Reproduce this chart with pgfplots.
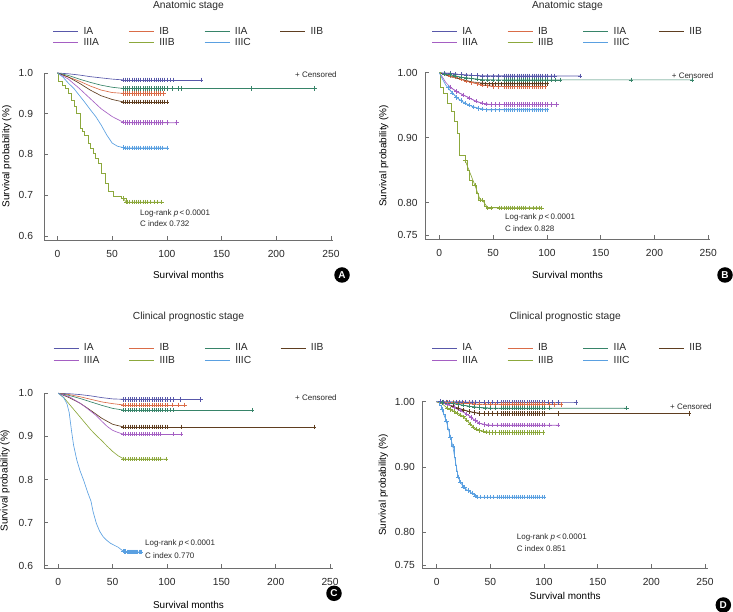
\documentclass[border=0pt]{standalone}
\usepackage{fontspec}
\setmainfont{Liberation Sans}
\usepackage{pgfplots}
\pgfplotsset{compat=1.18}

\definecolor{cIA}{RGB}{88,88,170}
\definecolor{cIB}{RGB}{218,108,72}
\definecolor{cIIA}{RGB}{55,132,105}
\definecolor{cIIB}{RGB}{95,62,32}
\definecolor{cIIIA}{RGB}{165,95,195}
\definecolor{cIIIB}{RGB}{140,168,60}
\definecolor{cIIIC}{RGB}{90,160,225}
\definecolor{axc}{RGB}{110,110,110}
\definecolor{txc}{RGB}{40,40,40}

\pgfplotsset{
  km/.style={
    scale only axis,
    axis x line*=bottom, axis y line*=left,
    axis line style={axc, line width=0.7bp},
    every tick/.style={axc, line width=0.7bp},
    tick align=inside,
    major tick length=4bp,
    xtick={0,50,100,150,200,250},
    tick label style={font=\fontsize{10.3}{12}\selectfont, text=txc},
    xticklabel style={yshift=-7bp},
    /pgf/number format/assume math mode=true,
    clip=false,
    xlabel={Survival months},
    ylabel={Survival probability (\%)},
    label style={font=\fontsize{10.3}{12}\selectfont, text=txc},
    every axis x label/.style={at={(axis description cs:0.5,0)}, anchor=center},
    every axis title/.style={font=\fontsize{10.3}{12}\selectfont, text=txc, at={(axis description cs:0.5,1)}, anchor=center},
    legend columns=4,
    legend cell align=left,
    legend image code/.code={\draw[##1] (0bp,0bp) -- (25bp,0bp);},
    legend style={draw=none, fill=none, anchor=north west, inner sep=0pt, outer sep=0pt,
      font=\fontsize{10.3}{12}\selectfont, text=txc,
      nodes={inner sep=0pt, text height=7.5bp, text depth=2bp},
      column sep=0pt, row sep=1.5bp},
  },
  cur/.style={line width=0.65bp, mark=none},
  cen/.style={line width=0.65bp, mark=+, mark size=2.2bp, mark options={solid, line width=0.5bp}, forget plot},
}
\newcommand{\lgent}[1]{\addlegendentry{\hspace*{5bp}\makebox[45bp][l]{#1}}}
\newcommand{\smalltxt}{\fontsize{8}{9.5}\selectfont}

\begin{document}
\begin{tikzpicture}
\path[use as bounding box] (0,0) rectangle (733bp,612bp);

%% ================= Panel A =================
\begin{axis}[km, at={(44bp,372bp)}, anchor=south west, width=289bp, height=167bp,
  xmin=-12.3, xmax=251.8, ymin=0.590, ymax=1.0,
  ytick={0.6,0.7,0.8,0.9,1.0}, yticklabels={0.6,0.7,0.8,0.9,1.0},
  yticklabel style={xshift=-7.5bp},
  every axis y label/.style={at={(axis description cs:-0.129,0.5)}, rotate=90, anchor=center},
  xlabel style={yshift=-35bp},
  title={Anatomic stage}, title style={yshift=67bp},
  legend style={at={(axis description cs:0.0311,1.2754)}}]
\addplot[cur, cIA] coordinates {(0,1)(5,0.999)(10,0.998)(20,0.995)(30,0.991)(40,0.988)(50,0.985)(60,0.983)}; \lgent{IA}
\addplot[cen, cIA] coordinates {(60,0.983)(62,0.983)(64,0.983)(66,0.983)(68,0.983)(70,0.983)(72,0.983)(74,0.983)(76,0.983)(78,0.983)(80,0.983)(82,0.983)(84,0.983)(86,0.983)(88,0.983)(90,0.983)(92,0.983)(94,0.983)(96,0.983)(98,0.983)(100,0.983)(103,0.983)(106,0.983)(131,0.983)};
\addplot[cur, cIB] coordinates {(0,1)(10,0.99)(20,0.98)(30,0.968)(40,0.958)(50,0.952)(60,0.950)}; \lgent{IB}
\addplot[cen, cIB] coordinates {(60,0.950)(62,0.950)(64,0.950)(66,0.950)(68,0.950)(70,0.950)(72,0.950)(74,0.950)(76,0.950)(78,0.950)(80,0.950)(82,0.950)(84,0.950)(86,0.950)(88,0.950)(90,0.950)(92,0.950)(94,0.950)(97,0.950)};
\addplot[cur, cIIA] coordinates {(0,1)(10,0.994)(20,0.985)(30,0.977)(40,0.97)(50,0.965)(60,0.962)}; \lgent{IIA}
\addplot[cen, cIIA] coordinates {(60,0.962)(62,0.962)(64,0.962)(66,0.962)(68,0.962)(70,0.962)(72,0.962)(74,0.962)(76,0.962)(78,0.962)(80,0.962)(82,0.962)(84,0.962)(86,0.962)(88,0.962)(90,0.962)(92,0.962)(94,0.962)(96,0.962)(98,0.962)(100,0.962)(105,0.962)(110,0.962)(113,0.962)(177,0.962)(235,0.962)};
\addplot[cur, cIIB] coordinates {(0,1)(10,0.99)(20,0.975)(30,0.958)(40,0.944)(50,0.935)(60,0.929)}; \lgent{IIB}
\addplot[cen, cIIB] coordinates {(60,0.929)(62,0.929)(64,0.929)(66,0.929)(68,0.929)(70,0.929)(72,0.929)(74,0.929)(76,0.929)(78,0.929)(80,0.929)(82,0.929)(84,0.929)(86,0.929)(88,0.929)(90,0.929)(92,0.929)(94,0.929)(96,0.929)(98,0.929)(100,0.929)};
\addplot[cur, cIIIA] coordinates {(0,1)(10,0.985)(20,0.962)(30,0.937)(40,0.912)(50,0.893)(58,0.882)(62,0.878)}; \lgent{IIIA}
\addplot[cen, cIIIA] coordinates {(60,0.879)(62,0.878)(64,0.878)(66,0.878)(68,0.878)(70,0.878)(72,0.878)(74,0.878)(76,0.878)(78,0.878)(80,0.878)(82,0.878)(84,0.878)(86,0.878)(88,0.878)(90,0.878)(92,0.878)(94,0.878)(96,0.878)(100,0.878)(109,0.878)};
\addplot[cur, cIIIB, const plot] coordinates {(0,1)(1,0.979)(4,0.97)(7,0.962)(10,0.95)(13,0.934)(15,0.918)(17.5,0.901)(20.6,0.864)(23,0.856)(25,0.848)(28,0.827)(30,0.815)(32.7,0.803)(35,0.79)(37.3,0.778)(40.4,0.754)(43.4,0.729)(46.4,0.709)(51,0.696)(58,0.692)(63,0.683)(66,0.683)}; \lgent{IIIB}
\addplot[cen, cIIIB] coordinates {(60,0.692)(63,0.683)(64,0.683)(66,0.683)(68,0.683)(70,0.683)(72,0.683)(74,0.683)(76,0.683)(78,0.683)(80,0.683)(82,0.683)(85,0.683)(88,0.683)(91,0.683)(95,0.683)};
\addplot[cur, cIIIC] coordinates {(0,1)(5,0.99)(10,0.975)(15,0.962)(20,0.945)(25,0.928)(30,0.91)(35,0.893)(40,0.872)(45,0.848)(50,0.828)(55,0.82)(62,0.816)}; \lgent{IIIC}
\addplot[cen, cIIIC] coordinates {(60,0.817)(62,0.816)(64,0.816)(66,0.816)(68,0.816)(70,0.816)(72,0.816)(74,0.816)(76,0.816)(78,0.816)(80,0.816)(82,0.816)(84,0.816)(86,0.816)(88,0.816)(90,0.816)(92,0.816)(94,0.816)(96,0.816)(100,0.816)};
\end{axis}

%% ================= Panel B =================
\begin{axis}[km, at={(425bp,373bp)}, anchor=south west, width=285bp, height=166.3bp,
  xmin=-13.3, xmax=251.6, ymin=0.744, ymax=1.0,
  ytick={0.75,0.8,0.9,1.0}, yticklabels={0.75,0.80,0.90,1.00},
  yticklabel style={xshift=-4bp},
  every axis y label/.style={at={(axis description cs:-0.1446,0.5)}, rotate=90, anchor=center},
  xlabel style={yshift=-36bp},
  title={Anatomic stage}, title style={yshift=67bp},
  legend style={at={(axis description cs:0.0235,1.2766)}}]
\addplot[cur, cIA] coordinates {(0,1)(10,0.999)(20,0.997)(30,0.996)(40,0.995)(60,0.995)}; \lgent{IA}
\addplot[cen, cIA] coordinates {(5,0.9995)(10,0.999)(15,0.998)(20,0.997)(25,0.9965)(30,0.996)(35,0.9955)(40,0.995)(45,0.995)(50,0.995)(55,0.995)(60,0.995)(62,0.995)(64,0.995)(66,0.995)(68,0.995)(70,0.995)(72,0.995)(74,0.995)(76,0.995)(78,0.995)(80,0.995)(82,0.995)(84,0.995)(86,0.995)(88,0.995)(90,0.995)(92,0.995)(94,0.995)(96,0.995)(98,0.995)(100,0.995)(104,0.995)(107,0.995)(131,0.995)};
\addplot[cur, cIB] coordinates {(0,1)(10,0.995)(20,0.99)(30,0.985)(40,0.981)(50,0.979)}; \lgent{IB}
\addplot[cen, cIB] coordinates {(5,0.998)(10,0.995)(15,0.993)(20,0.99)(25,0.987)(30,0.985)(35,0.983)(40,0.981)(45,0.98)(50,0.979)(55,0.979)(60,0.979)(62,0.979)(64,0.979)(66,0.979)(68,0.979)(70,0.979)(72,0.979)(74,0.979)(76,0.979)(78,0.979)(80,0.979)(82,0.979)(84,0.979)(86,0.979)(88,0.979)(90,0.979)(92,0.979)(94,0.979)(96,0.979)(98,0.979)};
\addplot[cur, cIIA] coordinates {(0,1)(10,0.997)(20,0.993)(30,0.991)(40,0.989)(50,0.989)}; \lgent{IIA}
\addplot[cen, cIIA] coordinates {(5,0.998)(10,0.997)(15,0.995)(20,0.993)(25,0.992)(30,0.991)(35,0.99)(40,0.989)(45,0.989)(50,0.989)(55,0.989)(60,0.989)(62,0.989)(64,0.989)(66,0.989)(68,0.989)(70,0.989)(72,0.989)(74,0.989)(76,0.989)(78,0.989)(80,0.989)(82,0.989)(84,0.989)(86,0.989)(88,0.989)(90,0.989)(92,0.989)(94,0.989)(96,0.989)(98,0.989)(100,0.989)(104,0.989)(108,0.989)(112,0.989)(178,0.989)(235,0.989)};
\addplot[cur, cIIB] coordinates {(0,1)(5,0.997)(10,0.994)(20,0.99)(30,0.986)(40,0.984)(50,0.983)}; \lgent{IIB}
\addplot[cen, cIIB] coordinates {(40,0.984)(43,0.983)(46,0.983)(49,0.983)(52,0.983)(55,0.983)(58,0.983)(60,0.983)(62,0.983)(64,0.983)(66,0.983)(68,0.983)(70,0.983)(72,0.983)(74,0.983)(76,0.983)(78,0.983)(80,0.983)(82,0.983)(84,0.983)(86,0.983)(88,0.983)(90,0.983)(92,0.983)(94,0.983)(96,0.983)(98,0.983)(100,0.983)};
\addplot[cur, cIIIA] coordinates {(0,1)(3,0.993)(6,0.985)(10,0.978)(16,0.971)(22,0.966)(28,0.961)(34,0.956)(40,0.953)(46,0.951)(50,0.951)}; \lgent{IIIA}
\addplot[cen, cIIIA] coordinates {(10,0.978)(16,0.971)(22,0.966)(28,0.961)(34,0.956)(40,0.953)(44,0.952)(48,0.951)(52,0.951)(56,0.951)(60,0.951)(62,0.951)(64,0.951)(66,0.951)(68,0.951)(70,0.951)(72,0.951)(74,0.951)(76,0.951)(78,0.951)(80,0.951)(82,0.951)(84,0.951)(86,0.951)(88,0.951)(90,0.951)(92,0.951)(94,0.951)(96,0.951)(98,0.951)(100,0.951)(104,0.951)(109,0.951)};
\addplot[cur, cIIIB, const plot] coordinates {(0,1)(1,0.978)(4,0.968)(7,0.953)(11,0.94)(14,0.925)(17,0.907)(19,0.873)(24,0.865)(26,0.85)(28,0.835)(31,0.827)(34,0.814)(36,0.804)(42,0.794)(44,0.792)(56,0.792)}; \lgent{IIIB}
\addplot[cen, cIIIB] coordinates {(24,0.865)(33,0.827)(38,0.804)(40,0.804)(45,0.792)(48,0.792)(56,0.792)(58,0.792)(60,0.792)(62,0.792)(64,0.792)(66,0.792)(68,0.792)(70,0.792)(72,0.792)(74,0.792)(76,0.792)(78,0.792)(80,0.792)(84,0.792)(87,0.792)(90,0.792)(93,0.792)(95,0.792)};
\addplot[cur, cIIIC] coordinates {(0,1)(3,0.99)(6,0.981)(10,0.973)(15,0.964)(20,0.957)(25,0.952)(31,0.948)(37,0.945)(44,0.943)(50,0.943)}; \lgent{IIIC}
\addplot[cen, cIIIC] coordinates {(8,0.977)(12,0.969)(16,0.962)(20,0.957)(24,0.953)(28,0.95)(32,0.947)(36,0.945)(40,0.944)(44,0.943)(48,0.943)(52,0.943)(56,0.943)(60,0.943)(62,0.943)(64,0.943)(66,0.943)(68,0.943)(70,0.943)(72,0.943)(74,0.943)(76,0.943)(78,0.943)(80,0.943)(82,0.943)(84,0.943)(86,0.943)(88,0.943)(90,0.943)(92,0.943)(94,0.943)(96,0.943)(98,0.943)(100,0.943)};
\end{axis}

%% ================= Panel C =================
\begin{axis}[km, at={(44bp,44bp)}, anchor=south west, width=289bp, height=174.7bp,
  xmin=-13.2, xmax=252.7, ymin=0.5947, ymax=1.0,
  ytick={0.6,0.7,0.8,0.9,1.0}, yticklabels={0.6,0.7,0.8,0.9,1.0},
  yticklabel style={xshift=-7.5bp},
  every axis y label/.style={at={(axis description cs:-0.135,0.5)}, rotate=90, anchor=center},
  xlabel style={yshift=-37bp},
  title={Clinical prognostic stage}, title style={yshift=76.6bp},
  legend style={at={(axis description cs:0.0322,1.2862)}, row sep=2.9bp}]
\addplot[cur, cIA] coordinates {(0,1)(10,0.999)(20,0.997)(30,0.994)(40,0.99)(50,0.987)(60,0.986)}; \lgent{IA}
\addplot[cen, cIA] coordinates {(60,0.986)(62,0.986)(64,0.986)(66,0.986)(68,0.986)(70,0.986)(72,0.986)(74,0.986)(76,0.986)(78,0.986)(80,0.986)(82,0.986)(84,0.986)(86,0.986)(88,0.986)(90,0.986)(92,0.986)(94,0.986)(96,0.986)(98,0.986)(100,0.986)(103,0.986)(106,0.986)(112,0.986)(131,0.986)};
\addplot[cur, cIB] coordinates {(0,1)(10,0.997)(20,0.992)(30,0.986)(40,0.98)(50,0.976)(60,0.973)}; \lgent{IB}
\addplot[cen, cIB] coordinates {(60,0.973)(62,0.973)(64,0.973)(66,0.973)(68,0.973)(70,0.973)(72,0.973)(74,0.973)(76,0.973)(78,0.973)(80,0.973)(82,0.973)(84,0.973)(86,0.973)(88,0.973)(90,0.973)(92,0.973)(94,0.973)(96,0.973)(98,0.973)(100,0.973)(105,0.973)(110,0.973)(116,0.973)};
\addplot[cur, cIIA] coordinates {(0,1)(10,0.995)(20,0.988)(30,0.98)(40,0.972)(50,0.965)(60,0.961)}; \lgent{IIA}
\addplot[cen, cIIA] coordinates {(60,0.961)(62,0.961)(64,0.961)(66,0.961)(68,0.961)(70,0.961)(72,0.961)(74,0.961)(76,0.961)(78,0.961)(80,0.961)(82,0.961)(84,0.961)(86,0.961)(88,0.961)(90,0.961)(92,0.961)(94,0.961)(96,0.961)(98,0.961)(100,0.961)(103,0.961)(106,0.961)(178,0.961)};
\addplot[cur, cIIB] coordinates {(0,1)(10,0.99)(20,0.977)(30,0.96)(40,0.942)(50,0.928)(60,0.922)}; \lgent{IIB}
\addplot[cen, cIIB] coordinates {(60,0.922)(62,0.922)(64,0.922)(66,0.922)(68,0.922)(70,0.922)(72,0.922)(74,0.922)(76,0.922)(78,0.922)(80,0.922)(82,0.922)(84,0.922)(86,0.922)(88,0.922)(90,0.922)(92,0.922)(94,0.922)(96,0.922)(98,0.922)(100,0.922)(113,0.922)(235,0.922)};
\addplot[cur, cIIIA] coordinates {(0,1)(10,0.992)(20,0.977)(25,0.968)(30,0.958)(35,0.948)(40,0.935)(45,0.923)(50,0.914)(55,0.909)(60,0.905)}; \lgent{IIIA}
\addplot[cen, cIIIA] coordinates {(60,0.905)(62,0.905)(64,0.905)(66,0.905)(68,0.905)(70,0.905)(72,0.905)(74,0.905)(76,0.905)(78,0.905)(80,0.905)(82,0.905)(84,0.905)(86,0.905)(88,0.905)(90,0.905)(92,0.905)(94,0.905)(106,0.905)(113,0.905)};
\addplot[cur, cIIIB] coordinates {(0,1)(5,0.99)(10,0.975)(15,0.96)(20,0.945)(25,0.93)(30,0.915)(35,0.902)(40,0.89)(45,0.877)(50,0.865)(55,0.855)(60,0.848)}; \lgent{IIIB}
\addplot[cen, cIIIB] coordinates {(60,0.848)(62,0.847)(64,0.847)(66,0.847)(68,0.847)(70,0.847)(72,0.847)(74,0.847)(76,0.847)(78,0.847)(80,0.847)(82,0.847)(84,0.847)(86,0.847)(88,0.847)(90,0.847)(92,0.847)(94,0.847)(99,0.847)};
\addplot[cur, cIIIC] coordinates {(0,1)(5,0.99)(8,0.975)(10,0.955)(12,0.915)(14,0.88)(17,0.845)(20,0.82)(23,0.80)(27,0.77)(30,0.75)(32,0.725)(35,0.698)(38,0.68)(41,0.668)(44,0.66)(48,0.652)(51,0.648)(55,0.643)(58,0.637)(60,0.634)}; \lgent{IIIC}
\addplot[cen, cIIIC] coordinates {(60,0.634)(61,0.633)(62,0.633)(63,0.632)(64,0.632)(65,0.632)(66,0.632)(67,0.632)(68,0.632)(69,0.632)(70,0.632)(71,0.632)(72,0.632)(73,0.632)(74,0.632)(75,0.632)(76,0.632)};
\end{axis}

%% ================= Panel D =================
\begin{axis}[km, at={(422.3bp,43.7bp)}, anchor=south west, width=285.7bp, height=166.6bp,
  xmin=-13.4, xmax=252.8, ymin=0.745, ymax=1.0,
  ytick={0.75,0.8,0.9,1.0}, yticklabels={0.75,0.80,0.90,1.00},
  yticklabel style={xshift=-4bp},
  every axis y label/.style={at={(axis description cs:-0.1365,0.5)}, rotate=90, anchor=center},
  xlabel style={yshift=-28bp},
  title={Clinical prognostic stage}, title style={yshift=85bp},
  legend style={at={(axis description cs:0.0329,1.3505)}, row sep=2.9bp}]
\addplot[cur, cIA] coordinates {(0,1)(20,0.9995)(40,0.999)}; \lgent{IA}
\addplot[cen, cIA] coordinates {(3,1)(6,0.9998)(9,0.9997)(12,0.9996)(15,0.9995)(18,0.9995)(21,0.9995)(24,0.9994)(27,0.9993)(30,0.9992)(33,0.9991)(36,0.999)(40,0.999)(44,0.999)(48,0.999)(52,0.999)(56,0.999)(60,0.999)(62,0.999)(64,0.999)(66,0.999)(68,0.999)(70,0.999)(72,0.999)(74,0.999)(76,0.999)(78,0.999)(80,0.999)(82,0.999)(84,0.999)(86,0.999)(88,0.999)(90,0.999)(92,0.999)(94,0.999)(96,0.999)(98,0.999)(100,0.999)(104,0.999)(108,0.999)(113,0.999)(130,0.999)};
\addplot[cur, cIB] coordinates {(0,1)(10,0.999)(20,0.998)(30,0.997)(40,0.996)}; \lgent{IB}
\addplot[cen, cIB] coordinates {(5,0.9995)(10,0.999)(15,0.9985)(20,0.998)(25,0.9975)(30,0.997)(35,0.9965)(40,0.996)(45,0.996)(50,0.996)(55,0.996)(60,0.996)(62,0.996)(64,0.996)(66,0.996)(68,0.996)(70,0.996)(72,0.996)(74,0.996)(76,0.996)(78,0.996)(80,0.996)(82,0.996)(84,0.996)(86,0.996)(88,0.996)(90,0.996)(92,0.996)(94,0.996)(96,0.996)(98,0.996)(100,0.996)(105,0.996)(110,0.996)(116,0.996)};
\addplot[cur, cIIA] coordinates {(0,1)(10,0.998)(20,0.996)(30,0.993)(40,0.991)(50,0.990)}; \lgent{IIA}
\addplot[cen, cIIA] coordinates {(5,0.999)(10,0.998)(15,0.997)(20,0.996)(25,0.9945)(30,0.993)(35,0.992)(40,0.991)(45,0.9905)(50,0.990)(55,0.990)(60,0.990)(62,0.990)(64,0.990)(66,0.990)(68,0.990)(70,0.990)(72,0.990)(74,0.990)(76,0.990)(78,0.990)(80,0.990)(82,0.990)(84,0.990)(86,0.990)(88,0.990)(90,0.990)(92,0.990)(94,0.990)(96,0.990)(98,0.990)(100,0.990)(105,0.990)(177,0.990)};
\addplot[cur, cIIB] coordinates {(0,1)(10,0.996)(20,0.99)(30,0.985)(40,0.982)}; \lgent{IIB}
\addplot[cen, cIIB] coordinates {(10,0.996)(15,0.993)(20,0.99)(25,0.9875)(30,0.985)(35,0.9835)(40,0.982)(44,0.982)(48,0.982)(52,0.982)(56,0.982)(60,0.982)(62,0.982)(64,0.982)(66,0.982)(68,0.982)(70,0.982)(72,0.982)(74,0.982)(76,0.982)(78,0.982)(80,0.982)(82,0.982)(84,0.982)(86,0.982)(88,0.982)(90,0.982)(92,0.982)(94,0.982)(96,0.982)(98,0.982)(100,0.982)(113,0.982)(235,0.982)};
\addplot[cur, cIIIA] coordinates {(0,1)(10,0.996)(20,0.988)(25,0.984)(30,0.979)(35,0.972)(40,0.967)(45,0.965)(50,0.964)}; \lgent{IIIA}
\addplot[cen, cIIIA] coordinates {(10,0.996)(16,0.991)(22,0.987)(28,0.981)(32,0.976)(36,0.971)(40,0.967)(44,0.965)(48,0.964)(52,0.964)(56,0.964)(60,0.964)(62,0.964)(64,0.964)(66,0.964)(68,0.964)(70,0.964)(72,0.964)(74,0.964)(76,0.964)(78,0.964)(80,0.964)(82,0.964)(84,0.964)(86,0.964)(88,0.964)(90,0.964)(92,0.964)(94,0.964)(96,0.964)(98,0.964)(100,0.964)(105,0.964)(113,0.964)};
\addplot[cur, cIIIB] coordinates {(0,1)(5,0.997)(10,0.99)(15,0.986)(20,0.982)(25,0.977)(30,0.968)(35,0.96)(40,0.956)(45,0.954)(50,0.953)}; \lgent{IIIB}
\addplot[cen, cIIIB] coordinates {(10,0.99)(13,0.988)(16,0.985)(19,0.983)(22,0.98)(25,0.977)(28,0.972)(31,0.966)(34,0.961)(37,0.958)(40,0.956)(43,0.955)(46,0.954)(49,0.953)(52,0.953)(55,0.953)(58,0.953)(60,0.953)(62,0.953)(64,0.953)(66,0.953)(68,0.953)(70,0.953)(72,0.953)(74,0.953)(76,0.953)(78,0.953)(80,0.953)(82,0.953)(84,0.953)(86,0.953)(88,0.953)(90,0.953)(92,0.953)(94,0.953)(96,0.953)(99,0.953)};
\addplot[cur, cIIIC, const plot] coordinates {(0,1)(2,0.995)(4,0.988)(6,0.98)(8,0.97)(10,0.958)(12,0.945)(14,0.932)(16,0.915)(17,0.903)(18,0.893)(19,0.885)(21,0.877)(24,0.869)(27,0.864)(31,0.86)(35,0.856)(38,0.854)(40,0.854)}; \lgent{IIIC}
\addplot[cen, cIIIC] coordinates {(5,0.988)(9,0.97)(13,0.945)(15,0.932)(20,0.885)(22,0.877)(25,0.869)(26,0.869)(29,0.864)(33,0.86)(36,0.856)(38,0.854)(41,0.854)(44,0.854)(47,0.854)(50,0.854)(53,0.854)(56,0.854)(58,0.854)(60,0.854)(62,0.854)(64,0.854)(66,0.854)(68,0.854)(70,0.854)(72,0.854)(74,0.854)(76,0.854)(78,0.854)(80,0.854)(82,0.854)(84,0.854)(86,0.854)(88,0.854)(90,0.854)(92,0.854)(94,0.854)(96,0.854)(98,0.854)(100,0.854)};
\end{axis}

%% ---- annotations ----
\begin{scope}[every node/.style={inner sep=0pt, text=txc, anchor=west, font=\smalltxt}]
\node at (295bp,537bp) {+ Censored};
\node at (140bp,399bp) {Log-rank \textit{p}\,<\,0.0001};
\node at (140bp,388bp) {C index 0.732};
\node at (671.7bp,536bp) {+ Censored};
\node at (505bp,394.7bp) {Log-rank \textit{p}\,<\,0.0001};
\node at (505bp,383.7bp) {C index 0.828};
\node at (295bp,214.3bp) {+ Censored};
\node at (145bp,68.7bp) {Log-rank \textit{p}\,<\,0.0001};
\node at (145bp,56bp) {C index 0.770};
\node at (670bp,205.3bp) {+ Censored};
\node at (516.7bp,74.3bp) {Log-rank \textit{p}\,<\,0.0001};
\node at (516.7bp,63.7bp) {C index 0.851};
\end{scope}
\begin{scope}[every node/.style={circle, fill=black, text=white, inner sep=0pt, minimum size=15.5bp, font=\bfseries\fontsize{10}{12}\selectfont}]
\node at (342bp,337bp) {A};
\node at (725bp,337bp) {B};
\node at (334bp,18.7bp) {C};
\node at (723.3bp,7bp) {D};
\end{scope}
\end{tikzpicture}
\end{document}
